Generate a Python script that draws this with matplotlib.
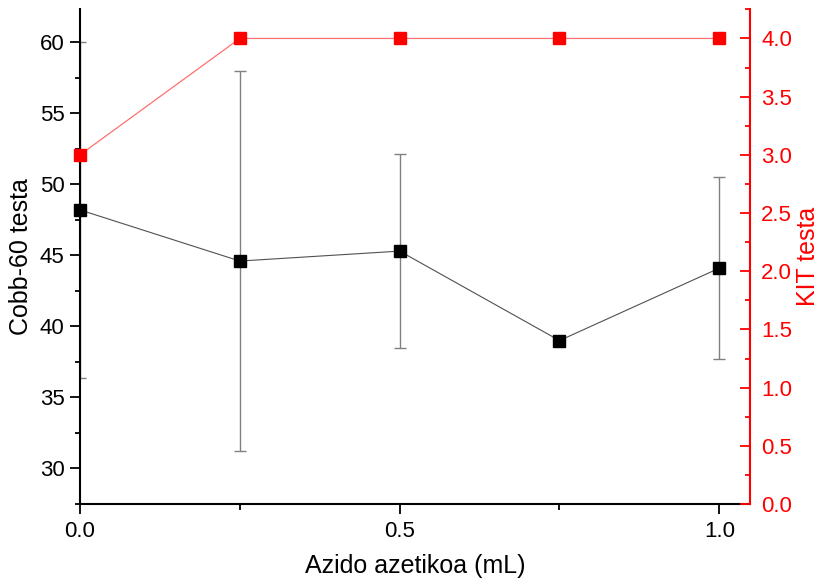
import matplotlib
matplotlib.use("Agg")
import matplotlib.pyplot as plt
from matplotlib.ticker import MultipleLocator, FormatStrFormatter

plt.rcParams['font.family'] = ['Liberation Sans', 'DejaVu Sans']

x_vals = [0.0, 0.25, 0.5, 0.75, 1.0]
cobb_vals = [48.2, 44.6, 45.3, 39.0, 44.1]
cobb_err = [11.85, 13.35, 6.85, 0.0, 6.4]
kit_vals = [3.0, 4.0, 4.0, 4.0, 4.0]

x_label = "Azido azetikoa (mL)"
left_label = "Cobb-60 testa"
right_label = "KIT testa"

fig = plt.figure(figsize=(8.25, 5.85), dpi=100)
ax = fig.add_axes([80/825, 1-504/585, 670/825, 495/585])
ax2 = ax.twinx()

# Black series with error bars
ax.errorbar(x_vals, cobb_vals, yerr=cobb_err, fmt='none', ecolor='#808080',
            elinewidth=1.0, capsize=4.5, capthick=1.0, zorder=2)
ax.plot(x_vals, cobb_vals, color='#505050', lw=0.8, zorder=3)
ax.plot(x_vals, cobb_vals, ls='none', marker='s', ms=9, color='black',
        clip_on=False, zorder=4)

# Red series
ax2.plot(x_vals, kit_vals, color='#ff7070', lw=0.9, zorder=3)
ax2.plot(x_vals, kit_vals, ls='none', marker='s', ms=9, color='red',
         clip_on=False, zorder=4)

ax.set_xlim(0, 1.048)
ax.set_ylim(27.49, 62.35)
ax2.set_ylim(0, 4.253)

ax.xaxis.set_major_locator(MultipleLocator(0.5))
ax.xaxis.set_minor_locator(MultipleLocator(0.25))
ax.xaxis.set_major_formatter(FormatStrFormatter('%.1f'))
ax.yaxis.set_major_locator(MultipleLocator(5))
ax.yaxis.set_minor_locator(MultipleLocator(2.5))
ax2.yaxis.set_major_locator(MultipleLocator(0.5))
ax2.yaxis.set_minor_locator(MultipleLocator(0.25))
ax2.yaxis.set_major_formatter(FormatStrFormatter('%.1f'))

for a in (ax, ax2):
    a.spines['top'].set_visible(False)
ax.spines['right'].set_visible(False)
ax2.spines['left'].set_visible(False)
ax2.spines['bottom'].set_visible(False)
ax.spines['left'].set_linewidth(1.5)
ax.spines['bottom'].set_linewidth(1.5)
ax2.spines['right'].set_linewidth(1.5)
ax2.spines['right'].set_color('red')

ax.tick_params(axis='x', which='major', direction='out', length=7, width=1.3,
               labelsize=16, pad=5)
ax.tick_params(axis='x', which='minor', direction='out', length=4, width=1.3)
ax.tick_params(axis='y', which='major', direction='out', length=7, width=1.3,
               labelsize=16, pad=4)
ax.tick_params(axis='y', which='minor', direction='out', length=3.5, width=1.3)
ax2.tick_params(axis='y', which='major', direction='in', length=7, width=1.3,
                labelsize=16, colors='red', pad=8)
ax2.tick_params(axis='y', which='minor', direction='in', length=3.5, width=1.3,
                colors='red')

ax.set_xlabel(x_label, fontsize=18, labelpad=9)
ax.set_ylabel(left_label, fontsize=18, labelpad=5)
ax2.set_ylabel(right_label, fontsize=18, color='red', labelpad=3)

fig.savefig("out.png", dpi=100)
